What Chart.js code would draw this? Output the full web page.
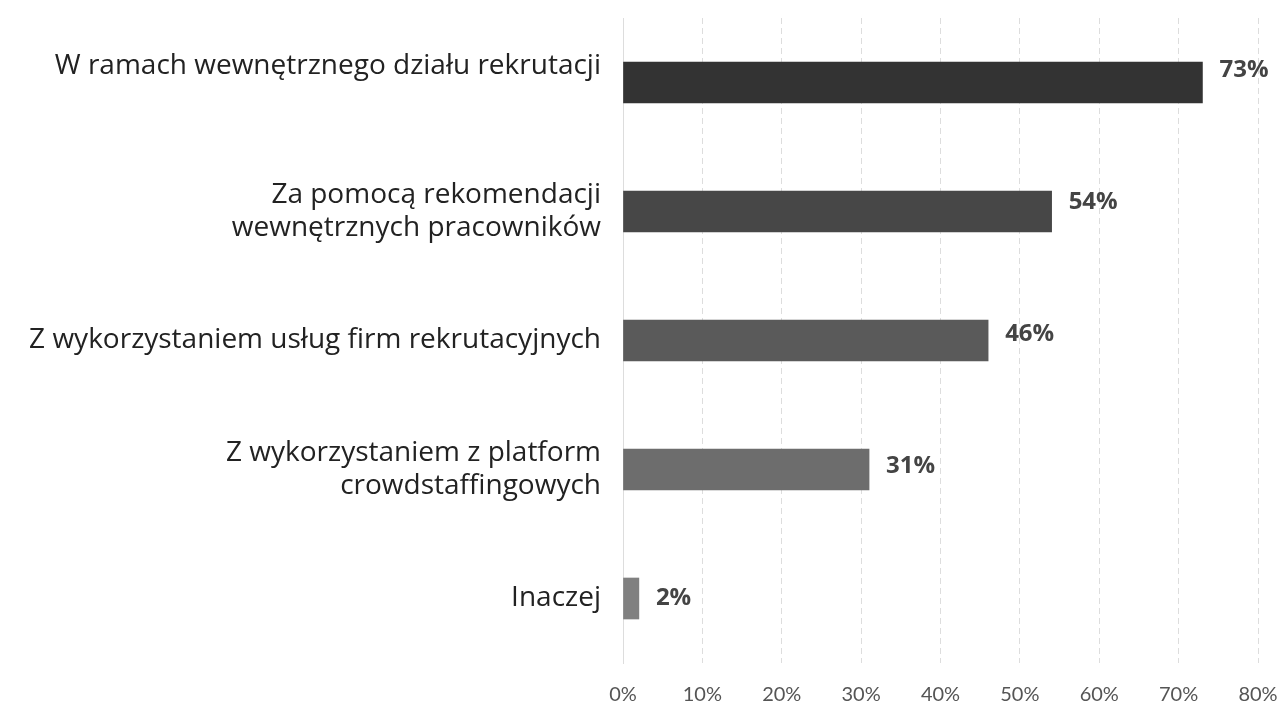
<!DOCTYPE html>
<html>
<head>
<meta charset="utf-8">
<script src="https://cdn.jsdelivr.net/npm/chart.js@4.4.1/dist/chart.umd.min.js"></script>
<style>
  html, body { margin: 0; padding: 0; background: #fff; }
  #wrap { width: 1284px; height: 703px; }
</style>
</head>
<body>
<div id="wrap"><canvas id="chart" width="1284" height="703"></canvas></div>
<script>
// Data
const categories = [
  ['W ramach wewnętrznego działu rekrutacji', ''], // empty 2nd line: source sits this label above the bar centre
  ['Za pomocą rekomendacji', 'wewnętrznych pracowników'],
  'Z wykorzystaniem usług firm rekrutacyjnych',
  ['Z wykorzystaniem z platform', 'crowdstaffingowych'],
  'Inaczej'
];
const values = [73, 54, 46, 31, 2];
const barColors = ['#333333', '#474747', '#5a5a5a', '#6d6d6d', '#808080'];
const xTicks = [0, 10, 20, 30, 40, 50, 60, 70, 80];

// Value labels at the end of each bar (the source sits them a little higher on the top bars)
const valueLabels = {
  id: 'valueLabels',
  afterDatasetsDraw(chart) {
    const ctx = chart.ctx;
    const meta = chart.getDatasetMeta(0);
    const n = meta.data.length;
    ctx.save();
    ctx.font = 'bold 24px "Open Sans"';
    ctx.fillStyle = '#444';
    ctx.textAlign = 'left';
    ctx.textBaseline = 'middle';
    meta.data.forEach((bar, i) => {
      ctx.fillText(values[i] + '%', bar.x + 17, bar.y - 3 * (n - 1 - i));
    });
    ctx.restore();
  }
};

const ctx = document.getElementById('chart').getContext('2d');
const chart = new Chart(ctx, {
  type: 'bar',
  data: {
    labels: categories,
    datasets: [{
      data: values,
      backgroundColor: barColors,
      barThickness: 41
    }]
  },
  options: {
    indexAxis: 'y',
    responsive: false,
    animation: false,
    layout: { padding: 0 },
    plugins: {
      legend: { display: false },
      tooltip: { enabled: false }
    },
    scales: {
      x: {
        min: 0,
        max: 80,
        afterBuildTicks: (axis) => { axis.ticks = xTicks.map(v => ({ value: v })); },
        afterFit: (axis) => {
          axis.height = 40;
          axis.paddingRight = 26;
          axis.paddingLeft = 0;
        },
        grid: { color: '#dddddd', drawTicks: false },
        border: { display: false, dash: [6, 4] },
        ticks: {
          padding: 20,
          color: '#555',
          font: { family: 'Lato', size: 20 },
          callback: (v) => v + '%'
        }
      },
      y: {
        afterFit: (axis) => {
          axis.width = 623;
          axis.paddingTop = 18;
          axis.paddingBottom = 0;
        },
        grid: { display: false, drawTicks: false },
        border: { display: true, color: '#dddddd', width: 1 },
        ticks: {
          padding: 22,
          color: '#222',
          font: { family: 'Open Sans', size: 28, lineHeight: 1.21 }
        }
      }
    }
  },
  plugins: [valueLabels]
});
</script>
</body>
</html>
